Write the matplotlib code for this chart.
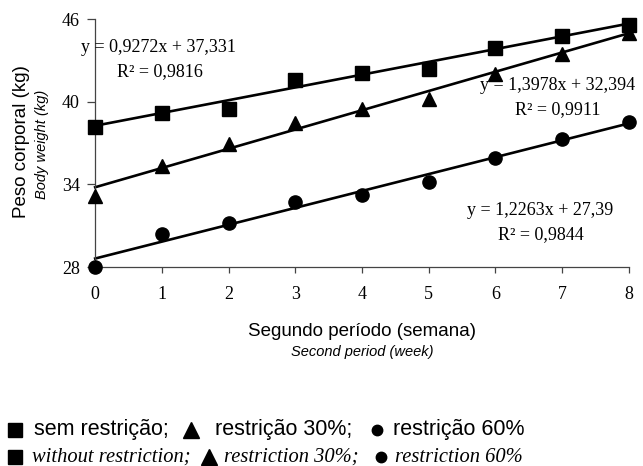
import matplotlib
matplotlib.use("Agg")
import matplotlib.pyplot as plt
from matplotlib.lines import Line2D

# data
weeks = [0, 1, 2, 3, 4, 5, 6, 7, 8]
sem_restricao = [38.2, 39.2, 39.5, 41.6, 42.1, 42.4, 43.9, 44.8, 45.6]
restricao_30 = [33.15, 35.3, 36.9, 38.45, 39.5, 40.2, 42.0, 43.5, 45.0]
restricao_60 = [28.0, 30.4, 31.2, 32.7, 33.2, 34.2, 35.9, 37.3, 38.5]

# fitted lines (x counted from 1 in the equations)
slopes = [0.9272, 1.3978, 1.2263]
intercepts = [37.331, 32.394, 27.39]
r2_values = ["0,9816", "0,9911", "0,9844"]
eq_texts = ["y = 0,9272x + 37,331", "y = 1,3978x + 32,394", "y = 1,2263x + 27,39"]

yticks = [28, 34, 40, 46]

serif = "Liberation Serif"
sans = "Liberation Sans"

fig = plt.figure(figsize=(6.43, 4.66), dpi=100)
ax = fig.add_axes([0.148, 0.427, 0.830, 0.532])

series = [sem_restricao, restricao_30, restricao_60]
markers = ["s", "^", "o"]
msizes = [9.5, 10, 9.5]
for vals, m, ms, a, b in zip(series, markers, msizes, slopes, intercepts):
    ax.plot(weeks, vals, linestyle="none", marker=m, markersize=ms, color="black", clip_on=False, zorder=3)
    fit = [a * (w + 1) + b for w in weeks]
    ax.plot(weeks, fit, color="black", linewidth=1.9, clip_on=False)

ax.set_xlim(0, 8)
ax.set_ylim(28, 46)
ax.set_xticks(weeks)
ax.set_yticks(yticks)
for s in ["top", "right"]:
    ax.spines[s].set_visible(False)
for s in ["left", "bottom"]:
    ax.spines[s].set_color("#444444")
    ax.spines[s].set_linewidth(0.9)
ax.tick_params(axis="x", direction="out", length=4, width=0.9, color="#444444", pad=10)
ax.tick_params(axis="y", direction="out", length=6, width=0.9, color="#444444", pad=5)
for lbl in ax.get_xticklabels() + ax.get_yticklabels():
    lbl.set_fontfamily(serif)
    lbl.set_fontsize(13)

# equations
def px(x, y):
    return x / 643, 1 - y / 466

eq_pos = [((81, 48), (117, 72)), ((480, 86), (515, 110)), ((467, 211), (498, 235))]
for txt, r2, (p1, p2) in zip(eq_texts, r2_values, eq_pos):
    fig.text(*px(*p1), txt, fontfamily=serif, fontsize=13, va="center", ha="left")
    fig.text(*px(*p2), "R² = " + r2, fontfamily=serif, fontsize=13, va="center", ha="left")

# axis labels
fig.text(*px(22, 142), "Peso corporal (kg)", fontfamily=sans, fontsize=13.5,
         rotation=90, va="center", ha="center")
fig.text(*px(42, 144), "Body weight (kg)", fontfamily=sans, fontsize=10.5,
         style="italic", rotation=90, va="center", ha="center")
fig.text(*px(362, 331), "Segundo período (semana)", fontfamily=sans, fontsize=13.5,
         va="center", ha="center")
fig.text(*px(362, 352), "Second period (week)", fontfamily=sans, fontsize=10.5,
         style="italic", va="center", ha="center")

# legend-like caption
line1 = [("sem restrição;", 34), ("restrição 30%;", 215), ("restrição 60%", 393)]
line2 = [("without restriction;", 32), ("restriction 30%;", 224), ("restriction 60%", 395)]
icon1 = [("s", 15), ("^", 191), ("o", 377)]
icon2 = [("s", 15), ("^", 209), ("o", 381)]
for (t, x) in line1:
    fig.text(*px(x, 430), t, fontfamily=sans, fontsize=15.5, va="center", ha="left")
for (t, x) in line2:
    fig.text(*px(x, 457), t, fontfamily=serif, fontsize=14.8, style="italic", va="center", ha="left")
for icons, yy in [(icon1, 430), (icon2, 457)]:
    for m, x in icons:
        fx, fy = px(x, yy)
        ms = {"s": 9.5, "^": 11, "o": 7.5}[m]
        fig.add_artist(Line2D([fx], [fy], marker=m, markersize=ms, color="black",
                              linestyle="none", transform=fig.transFigure))

fig.savefig("out.png", dpi=100)
